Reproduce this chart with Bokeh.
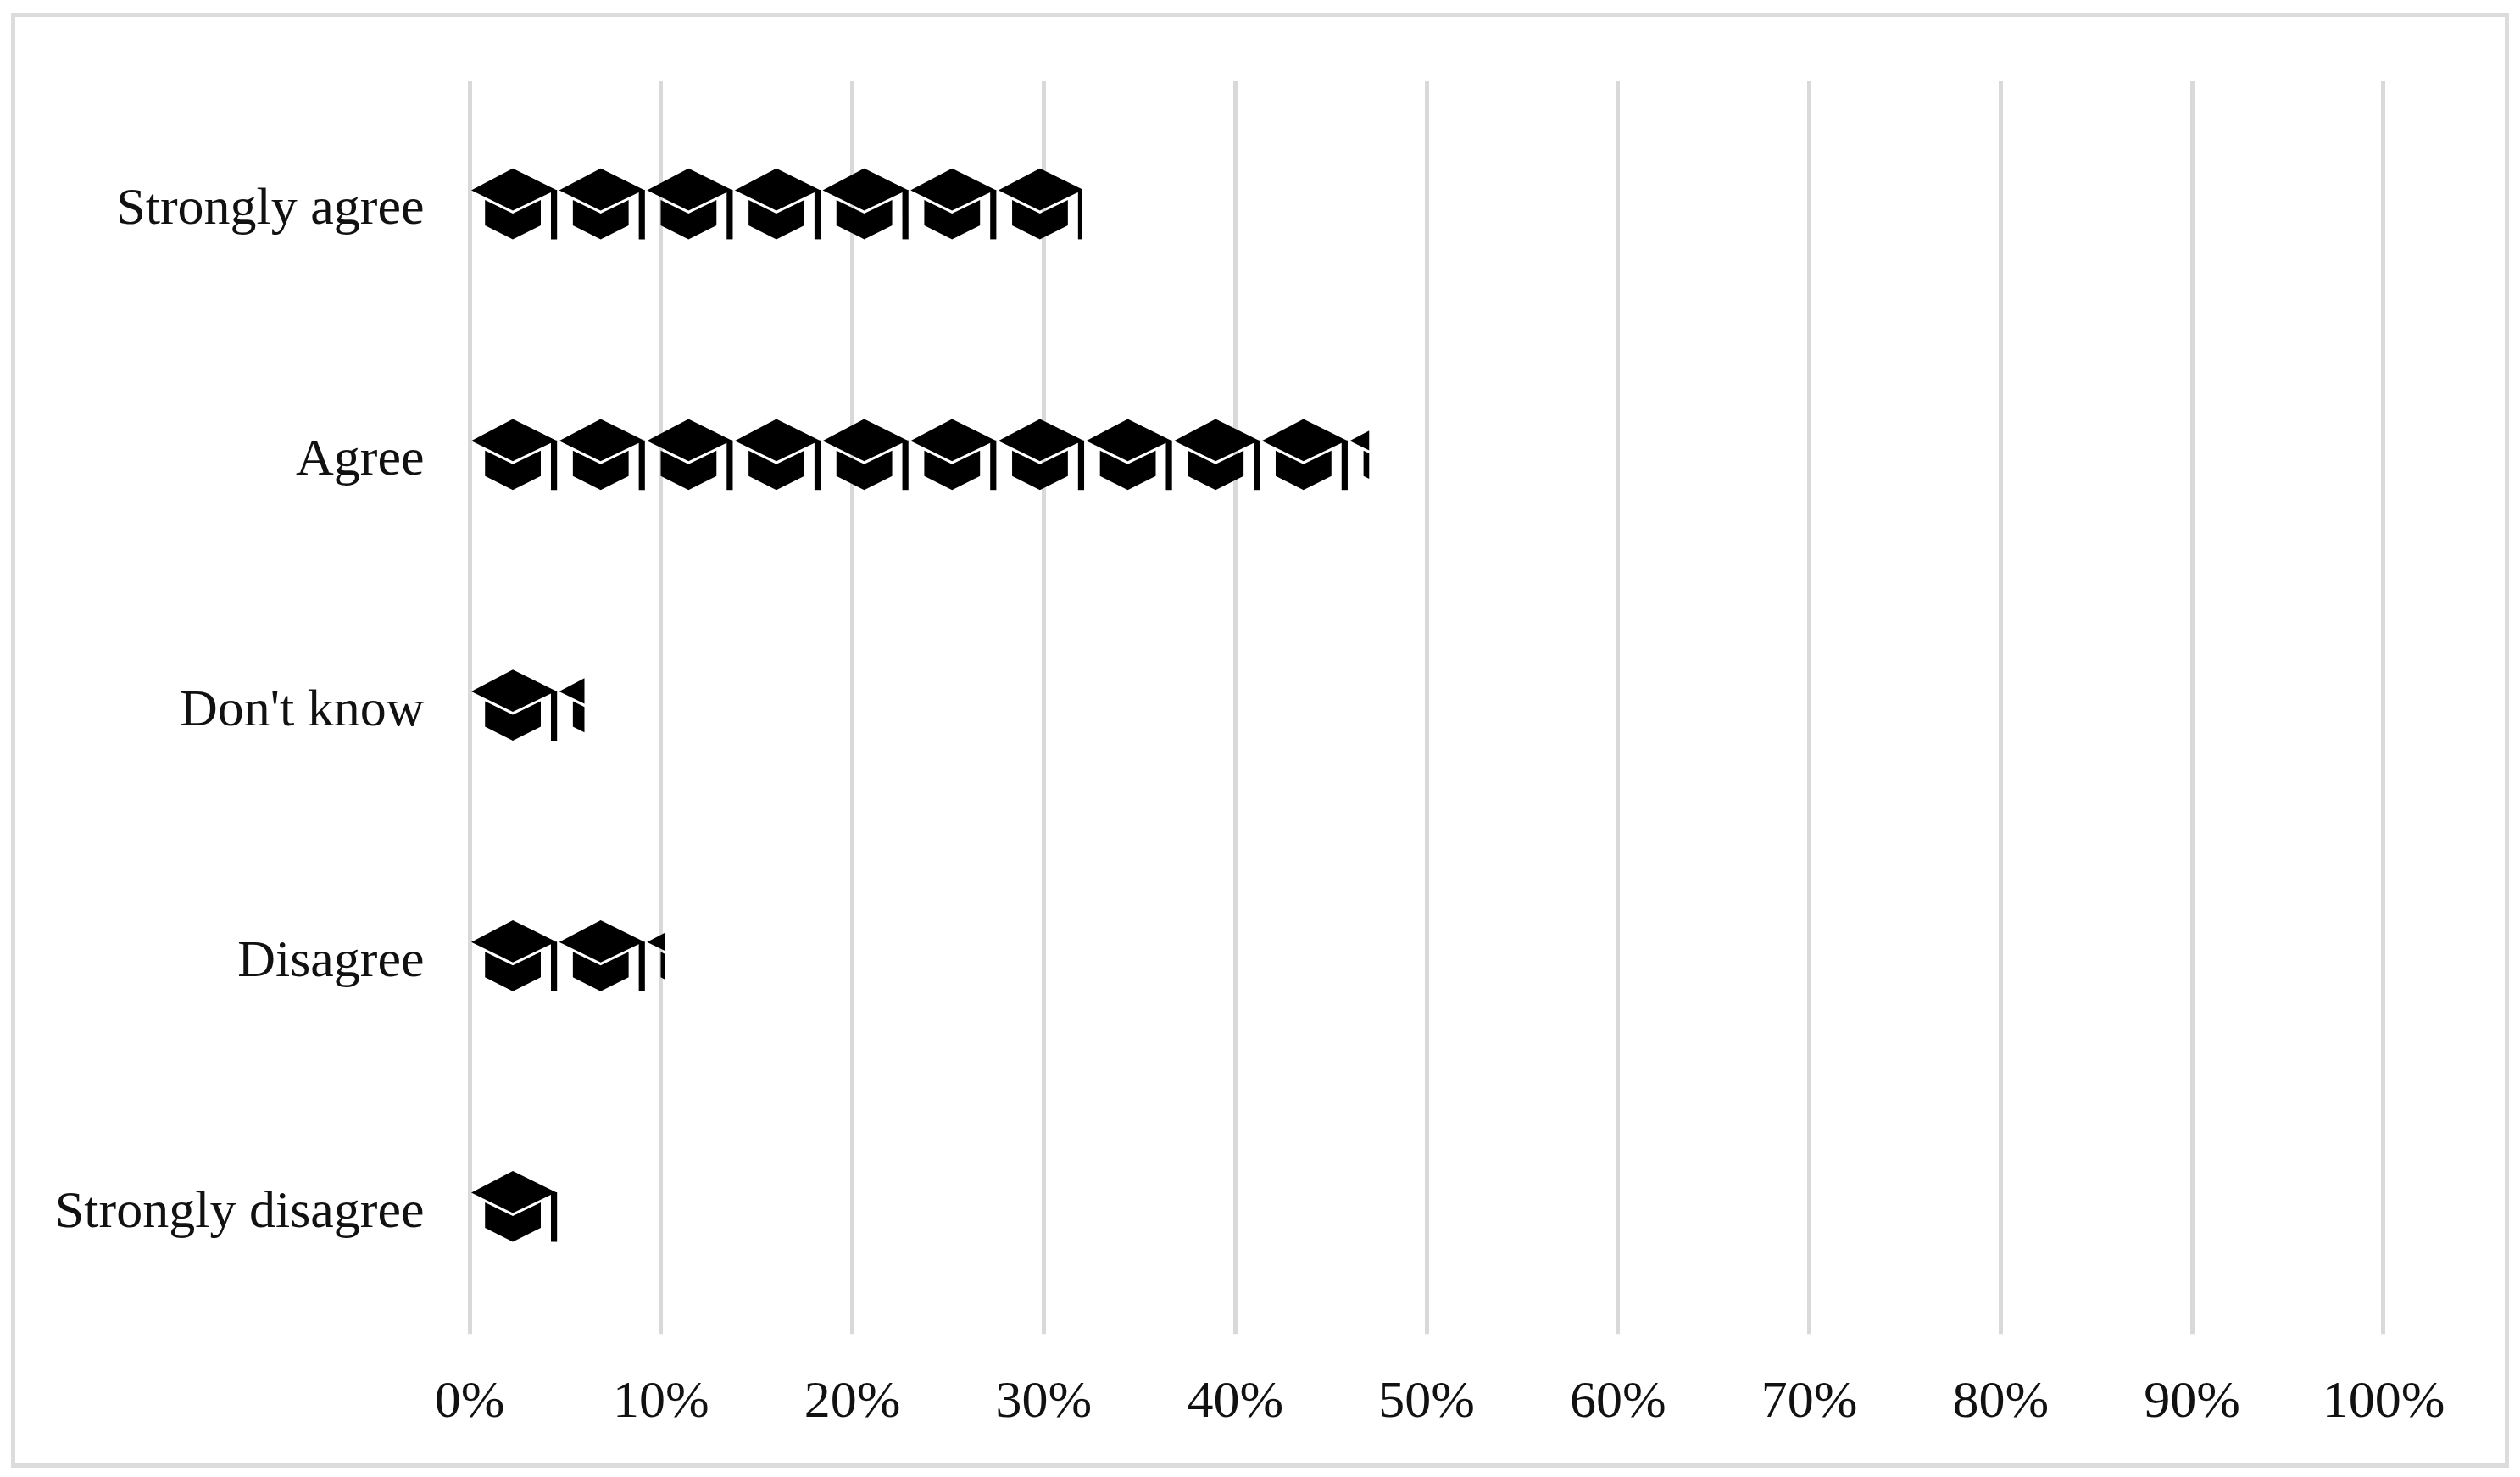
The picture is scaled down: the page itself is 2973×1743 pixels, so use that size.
from bokeh.embed import file_html
from bokeh.resources import INLINE
from bokeh.plotting import figure
from bokeh.models import Range1d, FixedTicker

categories = ["Strongly agree", "Agree", "Don't know", "Disagree", "Strongly disagree"]
values = [32, 47, 6, 10.2, 4.6]
x_ticks = [0, 10, 20, 30, 40, 50, 60, 70, 80, 90, 100]
x_labels = ["0%", "10%", "20%", "30%", "40%", "50%", "60%", "70%", "80%", "90%", "100%"]

ICON_VALUE = 4.59      # percent covered by one cap
BAND_PX = 295.8
ICON_PX = 311 / 3      # width of one icon cell in pixels

# Icon outline in pixels within its cell: (x from cell left, y from band centre)
CAP = [(2, -19), (51, -44.7), (102, -19.5), (97, -17), (51, 5), (2, -19)]
BODY = [(18.2, -7.5), (51, 8.5), (84, -7.5), (84, 22.5), (51, 39), (18.2, 22.5)]
POLE = [(96, -19.5), (103.2, -19.5), (103.2, 39), (96, 39)]
SHAPES = [CAP, BODY, POLE]


def clip_right(poly, limit):
    """Sutherland-Hodgman clip of a polygon to x <= limit."""
    out = []
    for i, (x0, y0) in enumerate(poly):
        x1, y1 = poly[(i + 1) % len(poly)]
        if x0 <= limit:
            out.append((x0, y0))
        if (x0 <= limit) != (x1 <= limit):
            t = (limit - x0) / (x1 - x0)
            out.append((limit, y0 + t * (y1 - y0)))
    return out


xs, ys = [], []
for row, val in enumerate(values):
    n = 0
    while n * ICON_VALUE < val:
        for shape in SHAPES:
            pts = [(n * ICON_VALUE + px / ICON_PX * ICON_VALUE, row + py / BAND_PX) for px, py in shape]
            pts = clip_right(pts, val)
            if len(pts) >= 3:
                xs.append([p[0] for p in pts])
                ys.append([p[1] for p in pts])
        n += 1

# The picture frame is a CSS outline round the figure box.
p = figure(
    width=2937, height=1707, output_backend="svg", toolbar_location=None,
    x_range=Range1d(-0.2, 100.2), y_range=Range1d(4.5, -0.5),
    min_border_left=531, min_border_right=139, min_border_top=75, min_border_bottom=153,
    background_fill_color="white", border_fill_color="white",
    margin=(20, 0, 0, 18),
)
p.styles = {"outline": "5.5px solid #dcdcdc", "outline-offset": "0px"}
p.outline_line_color = None
p.patches(xs, ys, fill_color="black", line_color=None)

p.xaxis.ticker = FixedTicker(ticks=x_ticks)
p.xaxis.major_label_overrides = dict(zip(x_ticks, x_labels))
p.yaxis.ticker = FixedTicker(ticks=list(range(len(categories))))
p.yaxis.major_label_overrides = dict(enumerate(categories))
for ax in (p.xaxis, p.yaxis):
    ax.axis_line_color = None
    ax.major_tick_line_color = None
    ax.minor_tick_line_color = None
    ax.major_label_text_font = "Liberation Serif"
    ax.major_label_text_font_size = "62px"
    ax.major_label_text_color = "#111111"
p.xaxis.major_label_standoff = 36
p.yaxis.major_label_standoff = 43
p.ygrid.grid_line_color = None
p.xgrid.ticker = FixedTicker(ticks=x_ticks)
p.xgrid.grid_line_color = "#d9d9d9"
p.xgrid.grid_line_width = 5

open("out.html", "w").write(file_html(p, INLINE))
